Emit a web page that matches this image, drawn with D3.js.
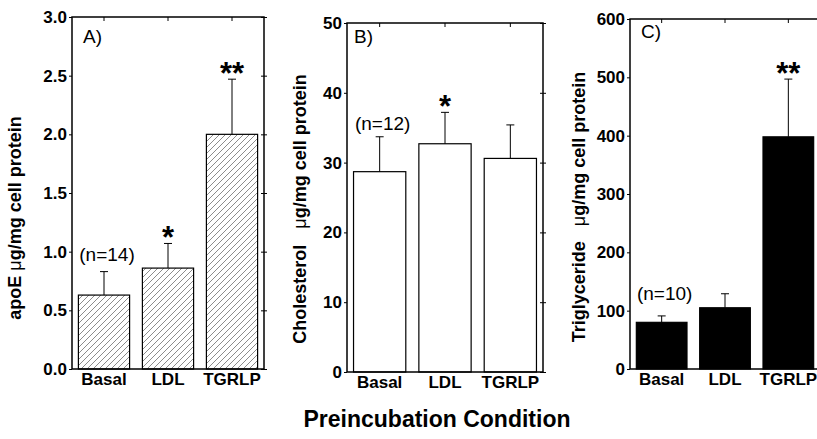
<!DOCTYPE html>
<html>
<head>
<meta charset="utf-8">
<script src="https://cdn.jsdelivr.net/npm/d3@7"></script>
<style>
  body { margin: 0; background: #fff; }
  svg { display: block; font-family: "Liberation Sans", Arial, sans-serif; }
</style>
</head>
<body>
<svg id="chart" width="817" height="439"></svg>
<script>
// data
const categories = ["Basal", "LDL", "TGRLP"];

const apoeMeans = [0.63, 0.86, 2.0];
const apoeSem = [0.20, 0.21, 0.47];
const apoeTicks = [0, 0.5, 1.0, 1.5, 2.0, 2.5, 3.0];

const cholMeans = [28.7, 32.7, 30.6];
const cholSem = [5.0, 4.5, 4.8];
const cholTicks = [0, 10, 20, 30, 40, 50];

const tgMeans = [80, 105, 398];
const tgSem = [11, 24, 99];
const tgTicks = [0, 100, 200, 300, 400, 500, 600];

const svg = d3.select("#chart");

// hatch for panel A
const defs = svg.append("defs");
defs.append("pattern")
  .attr("id", "hatch")
  .attr("patternUnits", "userSpaceOnUse")
  .attr("width", 6).attr("height", 6)
  .append("path")
  .attr("d", "M-1,7 L7,-1 M-1,1 L1,-1 M5,7 L7,5")
  .attr("stroke", "#666")
  .attr("stroke-width", 0.75);

const panels = [
  { means: apoeMeans, sem: apoeSem, ticks: apoeTicks, fmt: d3.format(".1f"),
    left: 72, right: 264, top: 17, bottom: 369, fill: "url(#hatch)",
    tag: "A)", tagDx: 11, tagDy: 26, n: "(n=14)", nDy: 11, stars: ["", "*", "**"],
    title: ["apoE ", "\u03bcg/mg cell protein"], gap: 0, titleX: 15, titleY: 218 },
  { means: cholMeans, sem: cholSem, ticks: cholTicks, fmt: d3.format("d"),
    left: 347, right: 543, top: 23, bottom: 372, fill: "#fff",
    tag: "B)", tagDx: 7, tagDy: 20, n: "(n=12)", nDy: 7, stars: ["", "*", ""],
    title: ["Cholesterol", "\u03bcg/mg cell protein"], gap: 16, titleX: 300, titleY: 209 },
  { means: tgMeans, sem: tgSem, ticks: tgTicks, fmt: d3.format("d"),
    left: 630, right: 820, top: 19, bottom: 369, fill: "#000",
    tag: "C)", tagDx: 11, tagDy: 19, n: "(n=10)", nDy: 16, stars: ["", "", "**"],
    title: ["Triglyceride", "\u03bcg/mg cell protein"], gap: 15, titleX: 579, titleY: 207 }
];

panels.forEach(p => {
  const g = svg.append("g");
  const ymax = d3.max(p.ticks);

  const x = d3.scaleBand()
    .domain(categories)
    .range([p.left, p.right])
    .paddingInner(0.2)
    .paddingOuter(0.1);
  const y = d3.scaleLinear()
    .domain([0, ymax])
    .range([p.bottom, p.top]);

  // bars
  g.selectAll("rect.bar")
    .data(p.means)
    .enter()
    .append("rect")
    .attr("class", "bar")
    .attr("x", (d, i) => x(categories[i]))
    .attr("y", d => y(d))
    .attr("width", x.bandwidth())
    .attr("height", d => y(0) - y(d))
    .attr("fill", p.fill)
    .attr("stroke", "#000")
    .attr("stroke-width", 1.2);

  // error bars (upper only)
  const cx = i => x(categories[i]) + x.bandwidth() / 2;
  p.means.forEach((m, i) => {
    const top = y(m + p.sem[i]);
    g.append("line")
      .attr("x1", cx(i)).attr("x2", cx(i))
      .attr("y1", y(m)).attr("y2", top)
      .attr("stroke", "#000").attr("stroke-width", 1);
    g.append("line")
      .attr("x1", cx(i) - 4).attr("x2", cx(i) + 4)
      .attr("y1", top).attr("y2", top)
      .attr("stroke", "#000").attr("stroke-width", 1);
    if (p.stars[i]) {
      g.append("text")
        .attr("x", cx(i))
        .attr("y", top + 5)
        .attr("text-anchor", "middle")
        .attr("font-size", 31)
        .attr("font-weight", "bold")
        .text(p.stars[i]);
    }
  });

  // frame
  g.append("rect")
    .attr("x", p.left).attr("y", p.top)
    .attr("width", p.right - p.left).attr("height", p.bottom - p.top)
    .attr("fill", "none").attr("stroke", "#000").attr("stroke-width", 1.5);

  // left axis, short outward ticks
  const yl = g.append("g")
    .attr("transform", `translate(${p.left},0)`)
    .call(d3.axisLeft(y).tickValues(p.ticks).tickFormat(p.fmt).tickSizeInner(3).tickSizeOuter(0).tickPadding(2));
  yl.select(".domain").remove();
  yl.selectAll("text")
    .attr("font-size", 17)
    .attr("font-weight", "bold")
    .attr("font-family", "Liberation Sans, Arial, sans-serif")
    .attr("fill", "#000");

  // right axis ticks crossing the frame
  const yr = g.append("g")
    .attr("transform", `translate(${p.right - 3},0)`)
    .call(d3.axisRight(y).tickValues(p.ticks).tickFormat("").tickSizeInner(6).tickSizeOuter(0));
  yr.select(".domain").remove();

  // top axis ticks at categories, inward
  const xt = g.append("g")
    .attr("transform", `translate(0,${p.top})`)
    .call(d3.axisTop(x).tickFormat("").tickSizeInner(-4).tickSizeOuter(0));
  xt.select(".domain").remove();

  // bottom category labels
  const xb = g.append("g")
    .attr("transform", `translate(0,${p.bottom})`)
    .call(d3.axisBottom(x).tickSize(0).tickPadding(4));
  xb.select(".domain").remove();
  xb.selectAll("text")
    .attr("font-size", 17)
    .attr("font-weight", "bold")
    .attr("font-family", "Liberation Sans, Arial, sans-serif")
    .attr("fill", "#000");

  // panel tag
  g.append("text")
    .attr("x", p.left + p.tagDx)
    .attr("y", p.top + p.tagDy)
    .attr("font-size", 19)
    .text(p.tag);

  // n label above the first bar's error bar
  g.append("text")
    .attr("x", cx(0) + 3)
    .attr("y", y(p.means[0] + p.sem[0]) - p.nDy)
    .attr("text-anchor", "middle")
    .attr("font-size", 19)
    .text(p.n);

  // y title
  const t = g.append("text")
    .attr("transform", `translate(${p.titleX},${p.titleY}) rotate(-90)`)
    .attr("text-anchor", "middle")
    .attr("dy", "0.35em")
    .attr("font-size", 18)
    .attr("font-weight", "bold");
  t.append("tspan").text(p.title[0]);
  t.append("tspan").attr("dx", p.gap).attr("font-weight", "normal").text(p.title[1][0]);
  t.append("tspan").text(p.title[1].slice(1));
});

svg.append("text")
  .attr("x", 437)
  .attr("y", 427)
  .attr("text-anchor", "middle")
  .attr("font-size", 23)
  .attr("font-weight", "bold")
  .text("Preincubation Condition");
</script>
</body>
</html>
